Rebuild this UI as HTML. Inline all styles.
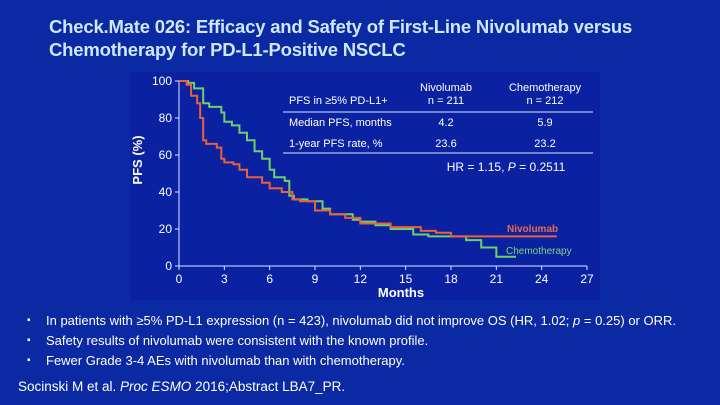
<!DOCTYPE html>
<html><head><meta charset="utf-8"><style>
body{margin:0;width:720px;height:405px;background:#0a29a3;overflow:hidden;font-family:"Liberation Sans",sans-serif;position:relative}
.title{position:absolute;left:49px;top:15px;color:#cfe6ff;font-weight:bold;font-size:18.5px;line-height:23px;letter-spacing:-0.2px;white-space:nowrap}
.b{position:absolute;color:#fff;font-size:13px;left:46px;white-space:nowrap}
.dot{position:absolute;color:#fff;font-size:10px;left:27px}
.ref{position:absolute;left:18px;top:379px;color:#fff;font-size:13.5px}
</style></head><body>
<div class="title">Check.Mate 026: Efficacy and Safety of First-Line Nivolumab versus<br>Chemotherapy for PD-L1-Positive NSCLC</div>
<svg width="720" height="300" style="position:absolute;left:0;top:0">
<rect x="130" y="72" width="470" height="228" fill="#0a22a1"/>
<g id="axes"></g><g id="series"></g>
<text x="155" y="173" transform="rotate(-90 142 173)" fill="#fff" font-size="13" font-weight="bold" text-anchor="middle">PFS (%)</text>
<text x="401" y="297" fill="#fff" font-size="13" font-weight="bold" text-anchor="middle">Months</text>
<g font-size="11" fill="#fff">
<text x="446" y="91" text-anchor="middle">Nivolumab</text><text x="446" y="104" text-anchor="middle">n = 211</text>
<text x="545" y="91" text-anchor="middle">Chemotherapy</text><text x="545" y="104" text-anchor="middle">n = 212</text>
<text x="289" y="104">PFS in ≥5% PD-L1+</text>
<line x1="283" y1="112" x2="593" y2="112" stroke="#dfe8ff" stroke-width="1"/>
<text x="289" y="126">Median PFS, months</text><text x="446" y="126" text-anchor="middle">4.2</text><text x="545" y="126" text-anchor="middle">5.9</text>
<text x="289" y="147">1-year PFS rate, %</text><text x="446" y="147" text-anchor="middle">23.6</text><text x="545" y="147" text-anchor="middle">23.2</text>
<line x1="283" y1="153" x2="593" y2="153" stroke="#dfe8ff" stroke-width="1"/>
<text x="506" y="171" text-anchor="middle" font-size="12">HR = 1.15, <tspan font-style="italic">P</tspan> = 0.2511</text>
</g>
<text x="507" y="232" fill="#f06a4a" font-size="10" font-weight="bold">Nivolumab</text>
<text x="506" y="254" fill="#7fd37a" font-size="10">Chemotherapy</text>
</svg>
<div class="dot" style="top:315px">▪</div><div class="b" style="top:313px">In patients with ≥5% PD-L1 expression (n = 423), nivolumab did not improve OS (HR, 1.02;  <i>p</i> = 0.25) or ORR.</div>
<div class="dot" style="top:335px">▪</div><div class="b" style="top:333px">Safety results of nivolumab were consistent with the known profile.</div>
<div class="dot" style="top:355px">▪</div><div class="b" style="top:353px">Fewer Grade 3-4 AEs with nivolumab than with chemotherapy.</div>
<div class="ref">Socinski M et al. <i>Proc ESMO</i> 2016;Abstract LBA7_PR.</div>
<script>
const xTicks=[0,3,6,9,12,15,18,21,24,27];
const yTicks=[0,20,40,60,80,100];
const nivoT=[0,0.5,0.8,1.2,1.4,1.6,1.8,2.5,2.8,3,3.6,4,4.5,5.5,6,6.8,7.5,8,9,10,11,12,13,14,15,16,17,18,25];
const nivoS=[100,98,92,88,80,68,66,64,58,56,55,52,48,45,42,40,36,35,30,28,26,23,23,21,21,19,18,16,16];
const chemoT=[0,0.6,1,1.6,2,2.8,3,3.5,4,4.5,5,5.5,6,6.3,7,7.3,7.6,8.5,9.5,10,11.5,12,13,14,15,15.5,16.5,18,19,20,21,22.3];
const chemoS=[100,99,96,88,86,83,78,76,72,68,62,58,52,48,46,38,36,35,31,28,25,24,22,20,20,17,16,16,14,10,5,5];
const X=t=>179+t*408/27, Y=s=>266-s*1.85;
const NS='http://www.w3.org/2000/svg';
const ax=document.getElementById('axes'), sr=document.getElementById('series');
function mk(tag,at,p){const e=document.createElementNS(NS,tag);for(const k in at)e.setAttribute(k,at[k]);p.appendChild(e);return e;}
const xl=mk('line',{x1:X(0),y1:Y(0),x2:X(27),y2:Y(0),stroke:'#dfe8ff'},ax);


const yl=mk('line',{x1:X(0),y1:Y(0),x2:X(0),y2:Y(100),stroke:'#dfe8ff'},ax);


xTicks.forEach(t=>{mk('line',{x1:X(t),y1:Y(0),x2:X(t),y2:Y(0)+4,stroke:'#dfe8ff'},ax);
const tx=mk('text',{x:X(t),y:Y(0)+17,fill:'#fff','font-size':12,'text-anchor':'middle'},ax);tx.textContent=t;

});
yTicks.forEach(v=>{mk('line',{x1:X(0)-4,y1:Y(v),x2:X(0),y2:Y(v),stroke:'#dfe8ff'},ax);
const tx=mk('text',{x:X(0)-7,y:Y(v)+4,fill:'#fff','font-size':12,'text-anchor':'end'},ax);tx.textContent=v;

});
function step(T,S){let d='M'+X(T[0])+' '+Y(S[0]);for(let i=1;i<T.length;i++){d+=' H'+X(T[i])+' V'+Y(S[i]);}return d;}
const c=mk('path',{d:step(chemoT,chemoS),fill:'none',stroke:'#6fcf6a','stroke-width':2},sr);


const n=mk('path',{d:step(nivoT,nivoS),fill:'none',stroke:'#e8603c','stroke-width':2},sr);


</script>
</body></html>
